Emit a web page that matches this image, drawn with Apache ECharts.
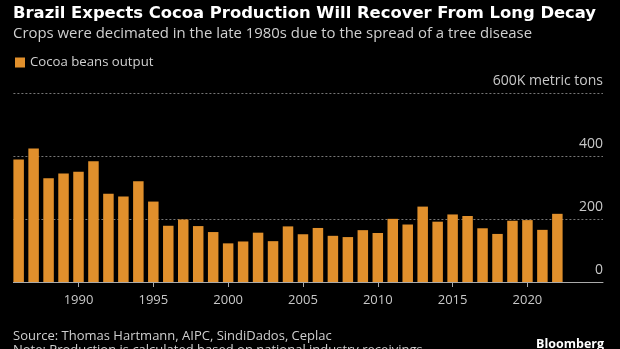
<!DOCTYPE html>
<html>
<head>
<meta charset="utf-8">
<script src="https://cdn.jsdelivr.net/npm/echarts@6/dist/echarts.min.js"></script>
<style>
html,body{margin:0;padding:0;background:#000;}
#c{width:620px;height:349px;}
</style>
</head>
<body>
<div id="c"></div>
<script>
const years = [1986,1987,1988,1989,1990,1991,1992,1993,1994,1995,1996,1997,1998,1999,2000,2001,2002,2003,2004,2005,2006,2007,2008,2009,2010,2011,2012,2013,2014,2015,2016,2017,2018,2019,2020,2021,2022];
const output = [390,425,330,345,351,384,281,272,321,256,179,199,178,159,123,129,157,130,177,152,172,147,143,165,156,201,183,240,192,215,210,171,153,195,197,166,217];
const xTicks = [1990,1995,2000,2005,2010,2015,2020];
const yTicks = [0,200,400,600];

const chart = echarts.init(document.getElementById('c'));
const FONT = 'Open Sans';
chart.setOption({
  backgroundColor: '#000',
  animation: false,
  textStyle: {fontFamily: FONT},
  title: [
    {text: 'Brazil Expects Cocoa Production Will Recover From Long Decay', left: 8, top: 1,
     textStyle: {color: '#fff', fontSize: 16.4, fontWeight: 'bold', fontFamily: 'DejaVu Sans'}},
    {text: 'Crops were decimated in the late 1980s due to the spread of a tree disease', left: 8, top: 21,
     textStyle: {color: '#d0d0d0', fontSize: 14.9, fontWeight: 'normal', fontFamily: FONT}},
    {text: 'Source: Thomas Hartmann, AIPC, SindiDados, Ceplac', left: 8, top: 325,
     textStyle: {color: '#cfcfcf', fontSize: 13, fontWeight: 'normal', fontFamily: FONT}},
    {text: 'Note: Production is calculated based on national industry receivings', left: 8, top: 339,
     textStyle: {color: '#cfcfcf', fontSize: 13, fontWeight: 'normal', fontFamily: FONT}},
    {text: 'Bloomberg', right: 11, top: 333,
     textStyle: {color: '#fff', fontSize: 12.5, fontWeight: 'bold', fontFamily: FONT}}
  ],
  legend: {
    left: 10, top: 51, icon: 'rect', itemWidth: 10, itemHeight: 10, itemGap: 10,
    textStyle: {color: '#d0d0d0', fontSize: 13.2, fontFamily: FONT},
    data: ['Cocoa beans output']
  },
  grid: {left: 13.4, right: 17, top: 93.5, bottom: 67},
  xAxis: {
    type: 'value', min: 1985.65, max: 2025.05,
    axisLine: {show: true, lineStyle: {color: '#aaa', width: 1}},
    axisTick: {show: true, customValues: xTicks, length: 5, lineStyle: {color: '#aaa'}},
    axisLabel: {customValues: xTicks, color: '#c8c8c8', fontSize: 13, margin: 12, fontFamily: FONT,
      formatter: v => String(v)},
    splitLine: {show: false}
  },
  yAxis: {
    type: 'value', position: 'right', min: 0, max: 600, interval: 200,
    axisLine: {show: false}, axisTick: {show: false},
    axisLabel: {inside: true, margin: 0, verticalAlign: 'bottom', padding: [0,0,5,0],
      color: '#c8c8c8', fontSize: 14, fontFamily: FONT,
      formatter: v => v === 600 ? '600K metric tons' : String(v)},
    splitLine: {show: true, lineStyle: {color: '#777', type: [2,2], width: 1}}
  },
  series: [{
    name: 'Cocoa beans output', type: 'bar', barWidth: 10.5,
    itemStyle: {color: '#e1902c'},
    data: years.map((y, i) => [y, output[i]])
  }]
});
</script>
</body>
</html>
